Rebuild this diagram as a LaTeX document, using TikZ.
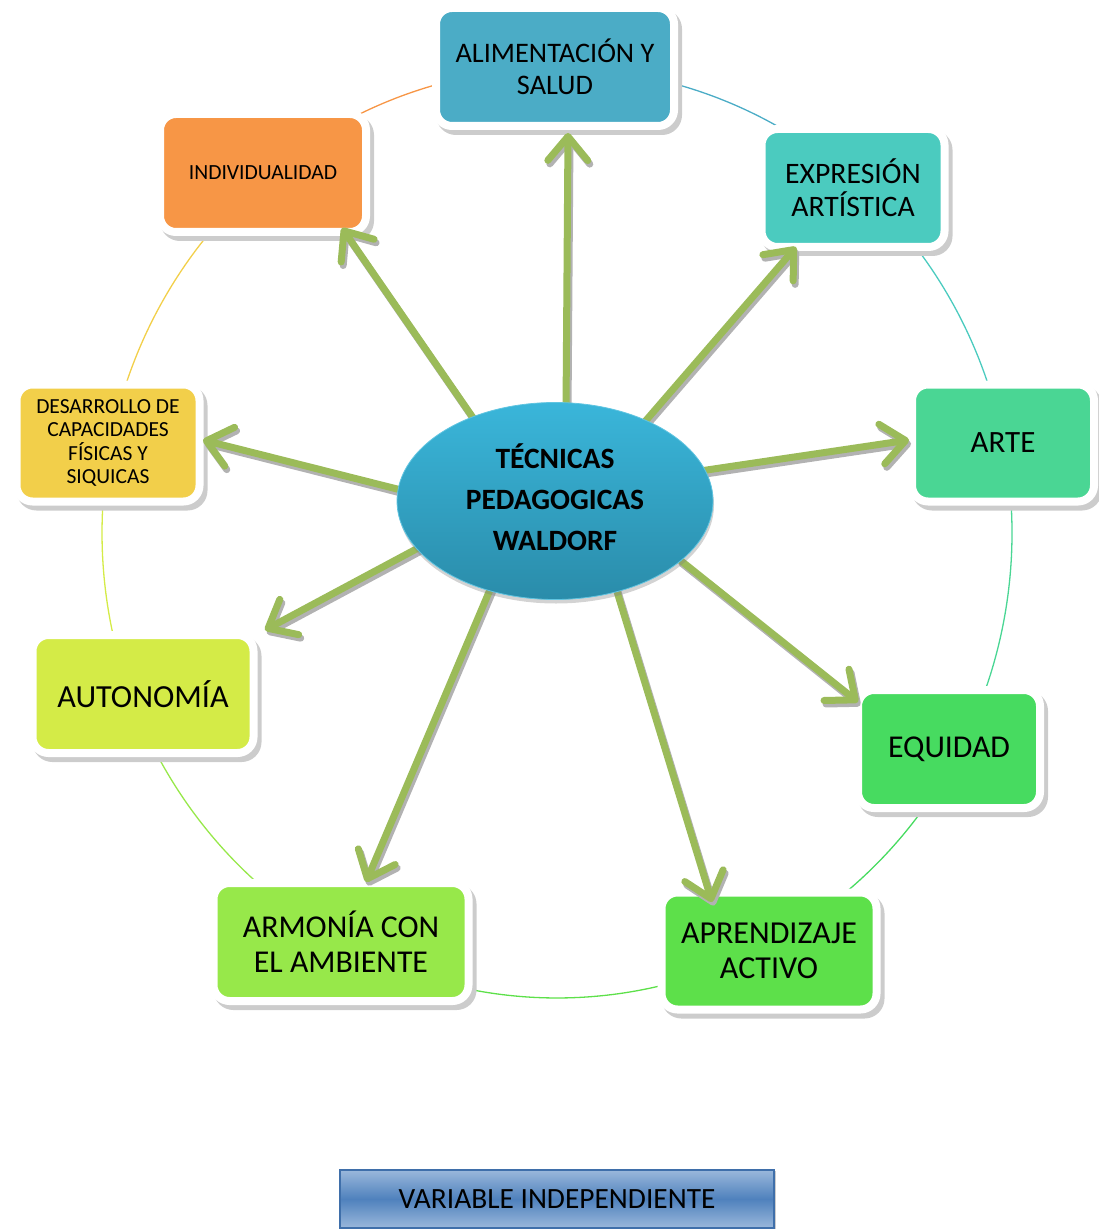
\documentclass[tikz,border=0pt]{standalone}
\usepackage{fontspec}
\setmainfont{Carlito}
\usetikzlibrary{arrows.meta,shapes.geometric,shadows}
\definecolor{cAli}{HTML}{4BACC6}
\definecolor{cExp}{HTML}{4BCBBF}
\definecolor{cArte}{HTML}{4AD694}
\definecolor{cEqu}{HTML}{47DB60}
\definecolor{cApr}{HTML}{5DE04A}
\definecolor{cArm}{HTML}{97E84A}
\definecolor{cAut}{HTML}{D4EB47}
\definecolor{cDes}{HTML}{F2CF4A}
\definecolor{cInd}{HTML}{F79646}
\definecolor{arrgreen}{HTML}{9BBB59}
\definecolor{ellTop}{HTML}{3AB6DA}
\definecolor{ellBot}{HTML}{2A8CAA}
\definecolor{varMid}{HTML}{4F81BD}
\definecolor{varLight}{HTML}{9AB8DB}
\definecolor{varEdge}{HTML}{3F6FAA}
\begin{document}
\begin{tikzpicture}[x=1pt,y=-1pt,
  box/.style={rounded corners=16pt, draw=white, line width=8pt, align=center,
    inner sep=0pt, text=black,
    preaction={draw=black!20, fill=black!20, transform canvas={shift={(4pt,-5pt)}}}},
  arc/.style={line width=1.3pt},
  arr/.style={line width=7pt, draw=arrgreen, line cap=round,
    -{Straight Barb[length=24pt, width=40pt, round]}},
  arrsh/.style={arr, draw=black!30, transform canvas={shift={(2pt,-3.5pt)}}}
]
\useasboundingbox (0,0) rectangle (1098,1230);

% outer circle (segments)
\coordinate (oc) at (557,533);
\draw[arc, cInd] (oc) ++(230:455 and 465) arc[start angle=230, end angle=270, x radius=455, y radius=465];
\draw[arc, cAli] (oc) ++(270:455 and 465) arc[start angle=270, end angle=311, x radius=455, y radius=465];
\draw[arc, cExp] (oc) ++(311:455 and 465) arc[start angle=311, end angle=349, x radius=455, y radius=465];
\draw[arc, cArte] (oc) ++(349:455 and 465) arc[start angle=349, end angle=388, x radius=455, y radius=465];
\draw[arc, cEqu] (oc) ++(28:455 and 465) arc[start angle=28, end angle=62.5, x radius=455, y radius=465];
\draw[arc, cApr] (oc) ++(62.5:455 and 465) arc[start angle=62.5, end angle=118.4, x radius=455, y radius=465];
\draw[arc, cArm] (oc) ++(118.4:455 and 465) arc[start angle=118.4, end angle=159.2, x radius=455, y radius=465];
\draw[arc, cAut] (oc) ++(159.2:455 and 465) arc[start angle=159.2, end angle=191.1, x radius=455, y radius=465];
\draw[arc, cDes] (oc) ++(191.1:455 and 465) arc[start angle=191.1, end angle=230, x radius=455, y radius=465];

% boxes
\node[box, fill=cAli, minimum width=238pt, minimum height=118pt,
  font=\fontsize{28.3}{32}\selectfont] (ali) at (555,67) {ALIMENTACIÓN Y\\SALUD};
\node[box, fill=cExp, minimum width=183pt, minimum height=118pt,
  font=\fontsize{29.7}{33}\selectfont] (exp) at (853,188) {EXPRESIÓN\\ARTÍSTICA};
\node[box, fill=cArte, minimum width=182pt, minimum height=117pt,
  font=\fontsize{31}{34}\selectfont] (arte) at (1003,443) {ARTE};
\node[box, fill=cEqu, minimum width=182pt, minimum height=118pt,
  font=\fontsize{31.8}{34}\selectfont] (equ) at (949,749) {EQUIDAD};
\node[box, fill=cApr, minimum width=215pt, minimum height=117pt,
  font=\fontsize{32}{35}\selectfont] (apr) at (769,951) {APRENDIZAJE\\ACTIVO};
\node[box, fill=cArm, minimum width=255pt, minimum height=118pt,
  font=\fontsize{31.8}{35}\selectfont] (arm) at (341,942) {ARMONÍA CON\\EL AMBIENTE};
\node[box, fill=cAut, minimum width=221pt, minimum height=118pt,
  font=\fontsize{32.2}{35}\selectfont] (aut) at (143,694) {AUTONOMÍA};
\node[box, fill=cDes, minimum width=183pt, minimum height=117pt,
  font=\fontsize{21.5}{23.3}\selectfont] (des) at (108,443) {DESARROLLO DE\\CAPACIDADES\\FÍSICAS Y\\SIQUICAS};
\node[box, fill=cInd, minimum width=206pt, minimum height=118pt,
  font=\fontsize{21.6}{24}\selectfont] (ind) at (263,173) {INDIVIDUALIDAD};

% arrow end points
\coordinate (s1) at (566,410); \coordinate (e1) at (568,133);
\coordinate (s2) at (642,425); \coordinate (e2) at (796,247);
\coordinate (s3) at (700,471); \coordinate (e3) at (909,440);
\coordinate (s4) at (680,560); \coordinate (e4) at (858,702);
\coordinate (s5) at (615,585); \coordinate (e5) at (712,902);
\coordinate (s6) at (492,585); \coordinate (e6) at (366,882);
\coordinate (s7) at (420,547); \coordinate (e7) at (265,630);
\coordinate (s8) at (405,491); \coordinate (e8) at (203,440);
\coordinate (s9) at (478,425); \coordinate (e9) at (342,228);

\foreach \i in {1,...,9} {
  \draw[arrsh] (s\i) -- (e\i);
}
\foreach \i in {1,...,9} {
  \draw[arr] (s\i) -- (e\i);
}

% central ellipse
\node[ellipse, minimum width=316pt, minimum height=197pt, inner sep=0pt,
  top color=ellTop, bottom color=ellBot, draw=ellTop!80!white, line width=0.8pt,
  drop shadow={shadow xshift=1pt, shadow yshift=-4pt, opacity=0.35},
  font=\fontsize{29.5}{41}\selectfont\bfseries] (c) at (555,501)
  {\raisebox{4pt}{\begin{tabular}{@{}c@{}}TÉCNICAS\\PEDAGOGICAS\\WALDORF\end{tabular}}};

% bottom label
\node[rectangle, minimum width=434pt, minimum height=58pt, inner sep=0pt,
  top color=varLight, bottom color=varLight, middle color=varMid,
  draw=varEdge, line width=1.5pt,
  drop shadow={shadow xshift=2pt, shadow yshift=-1pt, opacity=0.4},
  font=\fontsize{29.4}{32}\selectfont] (var) at (557,1199) {VARIABLE INDEPENDIENTE};
\end{tikzpicture}
\end{document}
